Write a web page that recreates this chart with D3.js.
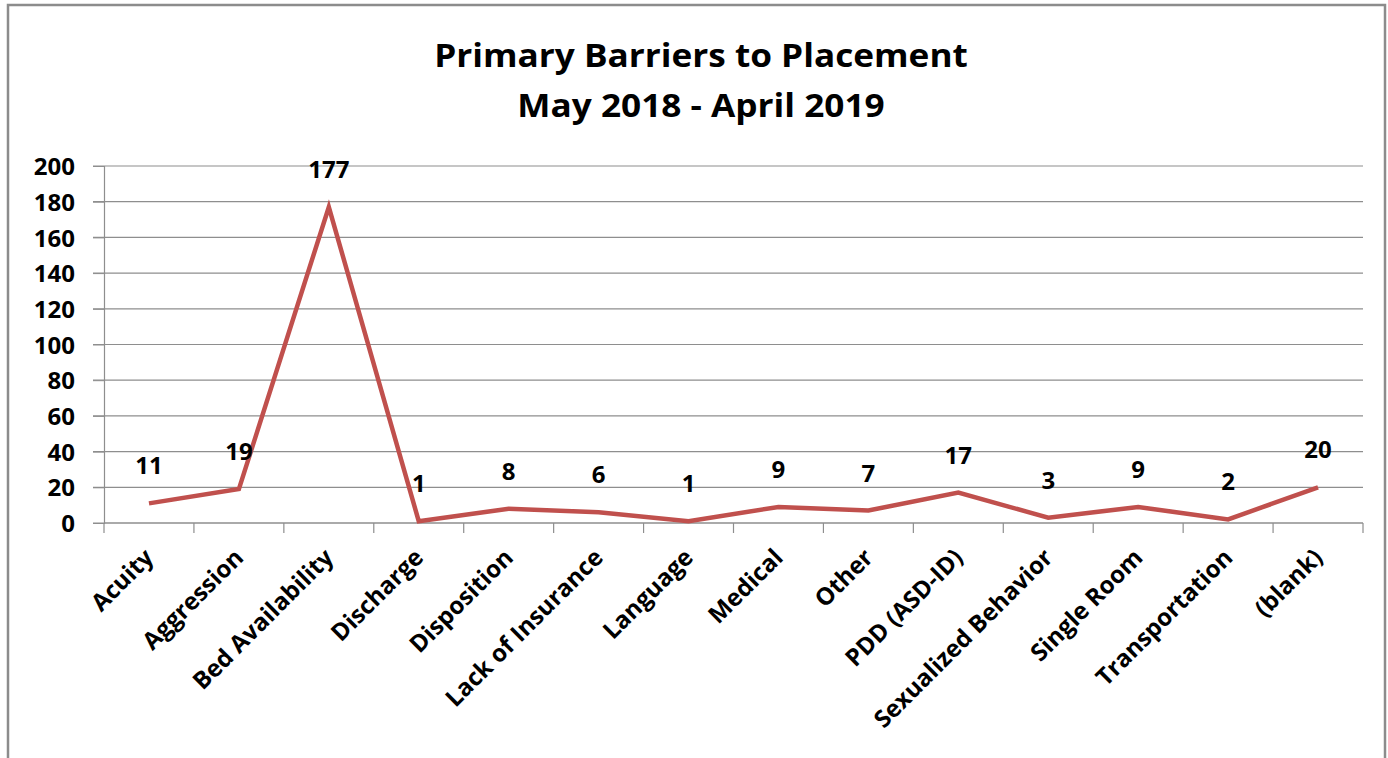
<!DOCTYPE html>
<html>
<head>
<meta charset="utf-8">
<script src="https://cdn.jsdelivr.net/npm/d3@7"></script>
<style>
  body { margin: 0; background: #fff; }
  svg text { font-family: "Open Sans", Lato, sans-serif; font-weight: bold; fill: #000; }
</style>
</head>
<body>
<div class="chartWrap"></div>
<script>
//Data
const categories = ["Acuity", "Aggression", "Bed Availability", "Discharge", "Disposition",
  "Lack of Insurance", "Language", "Medical", "Other", "PDD (ASD-ID)",
  "Sexualized Behavior", "Single Room", "Transportation", "(blank)"];
const counts = [11, 19, 177, 1, 8, 6, 1, 9, 7, 17, 3, 9, 2, 20];
const yTicks = [0, 20, 40, 60, 80, 100, 120, 140, 160, 180, 200];
const titleLines = ["Primary Barriers to Placement", "May 2018 - April 2019"];

let width = 1388,
    height = 758,
    plotLeft = 104, plotRight = 1363, plotTop = 166, plotBottom = 523;

let canvas = d3.select(".chartWrap").append("svg").attr("width", width).attr("height", height);

//Outer border (bottom edge is off the picture)
canvas.append("rect")
  .attr("x", 8).attr("y", 5).attr("width", 1377).attr("height", 800)
  .attr("fill", "none").attr("stroke", "#8c8c8c").attr("stroke-width", 2.5);

let xScale = d3.scaleBand().domain(categories).range([plotLeft, plotRight]);
let yScale = d3.scaleLinear().domain([0, 200]).range([plotBottom, plotTop]);

//Gridlines
canvas.append("g").selectAll("line")
  .data(yTicks).enter().append("line")
  .attr("x1", plotLeft - 11).attr("x2", plotRight)
  .attr("y1", d => yScale(d)).attr("y2", d => yScale(d))
  .attr("stroke", "#8e8e8e").attr("stroke-width", 1.2);

//Y axis
let yAxis = d3.axisLeft(yScale).tickValues(yTicks).tickSize(11).tickPadding(18);
let gy = canvas.append("g").attr("transform", "translate(" + plotLeft + ",0)").call(yAxis);
gy.select(".domain").attr("stroke", "#8e8e8e").attr("stroke-width", 1.2);
gy.selectAll(".tick line").attr("stroke", "#8e8e8e");
gy.selectAll("text").attr("font-size", 24).attr("dy", "0.36em")
  .style("font-family", "'Open Sans', Lato, sans-serif");

//X axis: ticks at category boundaries
let gx = canvas.append("g").attr("transform", "translate(0," + plotBottom + ")");
gx.append("line").attr("x1", plotLeft).attr("x2", plotRight).attr("stroke", "#8e8e8e").attr("stroke-width", 1.2);
let bounds = categories.map(c => xScale(c)).concat([plotRight]);
gx.selectAll(".bt").data(bounds).enter().append("line")
  .attr("x1", d => d).attr("x2", d => d).attr("y1", 0).attr("y2", 10)
  .attr("stroke", "#8e8e8e").attr("stroke-width", 1.2);
gx.selectAll(".xl").data(categories).enter().append("text")
  .text(d => d)
  .attr("text-anchor", "end")
  .attr("font-size", 24)
  .attr("transform", d => "translate(" + (xScale(d) + xScale.bandwidth() / 2 + 6) + ",36) rotate(-45)");

//Line
let cx = d => xScale(d) + xScale.bandwidth() / 2;
let line = d3.line().x((d, i) => cx(categories[i])).y(d => yScale(d));
canvas.append("path").datum(counts)
  .attr("d", line)
  .attr("fill", "none").attr("stroke", "#c0504d").attr("stroke-width", 4.5)
  .attr("stroke-linejoin", "miter");

//Data labels
canvas.append("g").selectAll("text").data(counts).enter().append("text")
  .text(d => d)
  .attr("x", (d, i) => cx(categories[i]))
  .attr("y", d => yScale(d) - 29)
  .attr("text-anchor", "middle")
  .attr("font-size", 24);

//Title (source font is wider, so stretch a little)
canvas.append("g").attr("transform", "translate(701,0) scale(1.1,1)")
  .selectAll("text").data(titleLines).enter().append("text")
  .text(d => d)
  .attr("x", 0).attr("y", (d, i) => 67 + i * 50)
  .attr("text-anchor", "middle")
  .attr("font-size", 32);
</script>
</body>
</html>
